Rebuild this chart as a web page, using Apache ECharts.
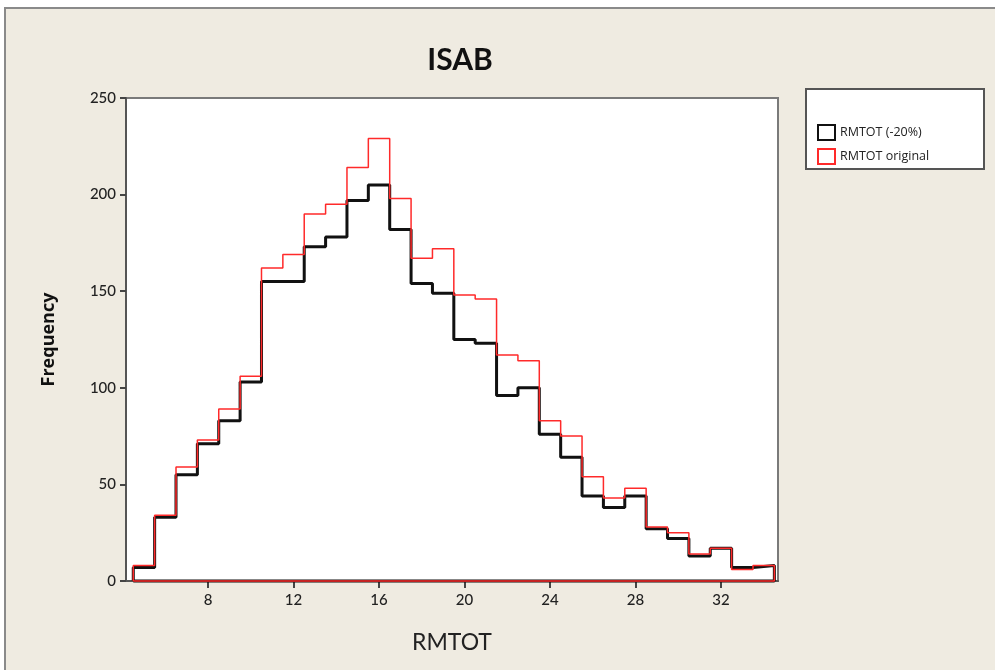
<!DOCTYPE html>
<html>
<head>
<meta charset="utf-8">
<script src="https://cdn.jsdelivr.net/npm/echarts@6/dist/echarts.min.js"></script>
<style>
html,body{margin:0;padding:0;background:#ffffff;}
#chart{width:995px;height:670px;}
</style>
</head>
<body>
<div id="chart"></div>
<script>
// Histogram bin centres (bin width 1)
const binCenters = [5,6,7,8,9,10,11,12,13,14,15,16,17,18,19,20,21,22,23,24,25,26,27,28,29,30,31,32,33,34];
const binWidth = 1;
// Frequencies
const rmtotMinus20 = [7,33,55,71,83,103,155,155,173,178,197,205,182,154,149,125,123,96,100,76,64,44,38,44,27,22,13,17,7,8];
const rmtotOriginal = [8,34,59,73,89,106,162,169,190,195,214,229,198,167,172,148,146,117,114,83,75,54,43,48,28,25,14,17,6,8];
// Tick labels
const xTicks = [8,12,16,20,24,28,32];
const yTicks = [0,50,100,150,200,250];
const seriesNames = ['RMTOT (-20%)','RMTOT original'];

function stepOutline(vals){
  const h = binWidth/2;
  const pts = [[binCenters[0]-h, 0]];
  for(let i=0;i<binCenters.length;i++){
    pts.push([binCenters[i]-h, vals[i]]);
    pts.push([binCenters[i]+h, vals[i]]);
  }
  pts.push([binCenters[binCenters.length-1]+h, 0]);
  pts.push([binCenters[0]-h, 0]);
  return pts;
}

const chart = echarts.init(document.getElementById('chart'), null, {renderer:'canvas'});
const font = 'Lato, "Open Sans", sans-serif';

chart.setOption({
  animation:false,
  backgroundColor:'#ffffff',
  graphic:[
    {type:'rect', z:-10, silent:true, shape:{x:5,y:8,width:1000,height:680},
     style:{fill:'#efebe1', stroke:'#8a8a8a', lineWidth:2}},
    {type:'rect', z:0, silent:true, shape:{x:806,y:89,width:178,height:80},
     style:{fill:'#ffffff', stroke:'#555555', lineWidth:2}}
  ],
  title:{
    text:'ISAB', left:455, top:40, textAlign:'center',
    textStyle:{fontFamily:font, fontSize:30, fontWeight:'bold', color:'#111111'}
  },
  legend:{
    orient:'vertical', left:812, top:119, itemGap:7, itemWidth:17, itemHeight:15,
    icon:'rect', z:5,
    textStyle:{fontFamily:'"Open Sans", sans-serif', fontSize:12.5, color:'#222222', padding:[0,0,0,0]},
    data:[
      {name:seriesNames[0], itemStyle:{color:'#ffffff', borderColor:'#111111', borderWidth:2}},
      {name:seriesNames[1], itemStyle:{color:'#ffffff', borderColor:'#ff2a2a', borderWidth:2}}
    ]
  },
  grid:{
    left:126, top:98, width:652, height:483, show:true,
    backgroundColor:'#ffffff', borderColor:'#7a7a7a', borderWidth:2
  },
  xAxis:{
    type:'value', min:4.16, max:34.67,
    name:'RMTOT', nameLocation:'middle', nameGap:50,
    nameTextStyle:{fontFamily:font, fontSize:23, color:'#222222'},
    axisLine:{show:true, onZero:false, lineStyle:{color:'#555555', width:2}},
    axisTick:{show:true, length:7, customValues:xTicks, lineStyle:{color:'#444444', width:2}},
    axisLabel:{customValues:xTicks, fontFamily:font, fontSize:15, fontWeight:500, color:'#222222', margin:12},
    splitLine:{show:false}
  },
  yAxis:{
    type:'value', min:0, max:250, interval:50,
    name:'Frequency', nameLocation:'middle', nameGap:68,
    nameTextStyle:{fontFamily:'"Open Sans", sans-serif', fontSize:18, fontWeight:'bold', color:'#111111'},
    axisLine:{show:true, lineStyle:{color:'#555555', width:2}},
    axisTick:{show:true, length:6, lineStyle:{color:'#444444', width:2}},
    axisLabel:{fontFamily:font, fontSize:15, fontWeight:500, color:'#222222', margin:10,
      formatter:function(v){ return yTicks.indexOf(v)>=0 ? String(v) : ''; }},
    splitLine:{show:false}
  },
  series:[
    {name:seriesNames[0], type:'line', data:stepOutline(rmtotMinus20), showSymbol:false,
     color:'#111111', lineStyle:{color:'#111111', width:3}, z:3, clip:false},
    {name:seriesNames[1], type:'line', data:stepOutline(rmtotOriginal), showSymbol:false,
     color:'#ff2a2a', lineStyle:{color:'#ff2a2a', width:1.5}, z:4, clip:false}
  ]
});
</script>
</body>
</html>
